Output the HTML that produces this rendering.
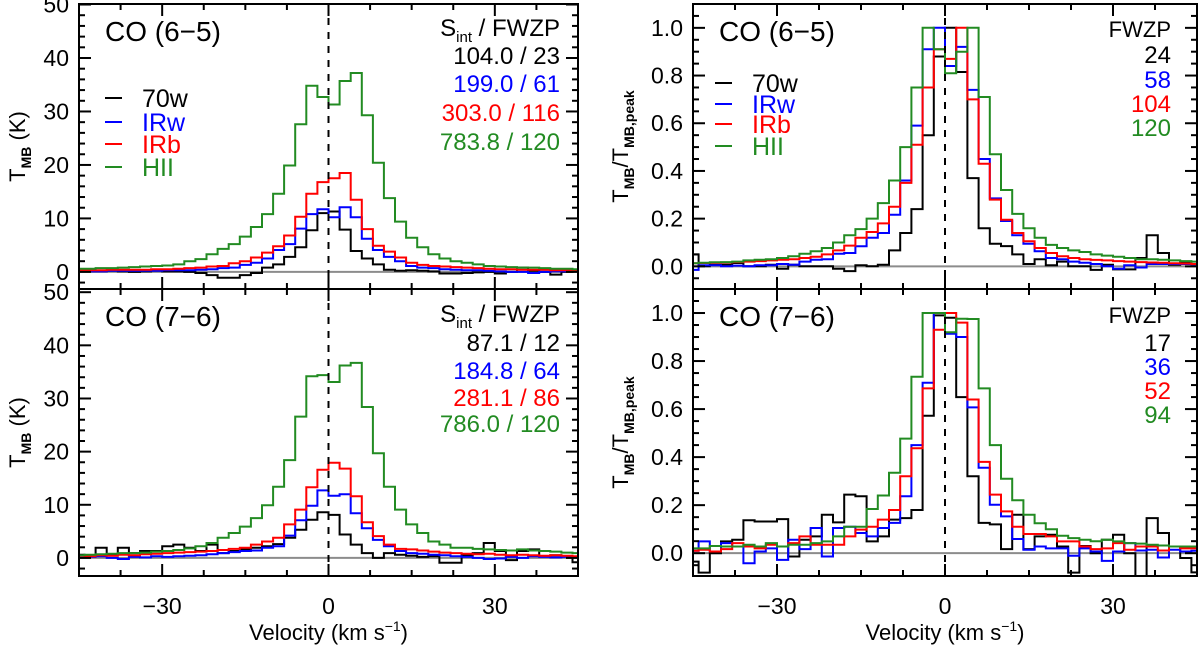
<!DOCTYPE html>
<html><head><meta charset="utf-8"><style>
html,body{margin:0;padding:0;background:#fff}
svg{display:block;font-family:"Liberation Sans",sans-serif}
</style></head><body>
<svg id="chart" width="1200" height="651" viewBox="0 0 1200 651" xmlns="http://www.w3.org/2000/svg"></svg>
<script>
// ---- data (bins of 2 km/s, centers -45..45) ----
const binCenters = [];
for (let c = -45; c <= 45; c += 2) binCenters.push(c);
const seriesNames = ["70w","IRw","IRb","HII"];
const seriesColors = ["#000000","#0000ff","#ff0000","#228b22"];

const co65_70w = [0.2,0.1,0.1,0.2,0.1,0.0,0.1,0.2,0.1,0.1,0.0,-0.2,-0.6,-1.1,-1.1,-0.6,-0.2,0.8,1.4,2.8,4.6,7.8,11.0,11.3,7.9,3.9,2.5,1.4,0.4,0.2,0.3,0.2,0.1,-0.3,-0.3,-0.2,-0.1,0.0,-0.3,0.0,0.8,0.2,0.0,-0.5,0.0,0.1];
const co65_IRw = [0.1,0.1,0.1,0.2,0.2,0.2,0.2,0.2,0.3,0.3,0.3,0.4,0.5,0.7,0.8,1.3,1.7,2.5,4.1,5.2,8.1,10.8,11.7,10.2,12.1,10.2,6.2,4.1,2.8,2.0,1.1,0.8,0.7,0.5,0.4,0.3,0.3,0.2,0.1,0.0,0.0,-0.2,0.0,0.1,0.1,0.1];
const co65_IRb = [0.3,0.3,0.3,0.4,0.4,0.4,0.4,0.5,0.5,0.6,0.7,0.8,1.0,1.1,1.6,2.0,2.7,3.6,4.8,6.8,10.3,14.6,16.8,17.5,18.5,13.5,8.0,4.9,3.8,2.7,1.7,1.3,1.1,1.0,0.9,0.8,0.7,0.6,0.5,0.5,0.4,0.4,0.4,0.3,0.3,0.3];
const co65_HII = [0.6,0.6,0.7,0.7,0.8,0.9,1.0,1.1,1.2,1.4,2.0,2.4,3.3,4.3,5.2,6.6,8.4,10.8,14.6,19.9,27.6,34.8,32.7,31.3,35.7,37.2,29.3,20.4,13.8,9.4,6.4,4.6,3.3,2.5,2.0,1.7,1.4,1.1,1.0,0.9,0.8,0.8,0.7,0.6,0.6,0.5];

const co76_70w = [0.6,0.3,1.9,0.6,1.9,0.9,1.3,1.3,2.2,2.5,1.9,1.3,2.5,0.9,1.3,1.6,1.9,2.2,2.6,3.8,5.3,7.2,8.6,8.1,4.4,2.5,0.9,0.0,0.9,0.6,0.4,0.2,0.3,-0.9,-0.9,0.5,0.9,2.8,1.3,-0.4,1.3,1.6,0.3,0.5,0.3,-0.8];
const co76_IRw = [0.4,0.2,0.3,0.0,-0.2,0.2,0.1,0.3,0.2,0.3,0.4,0.5,0.7,0.9,1.1,1.3,1.4,1.9,2.2,4.2,7.1,9.8,12.7,11.7,12.0,8.4,5.6,3.4,2.2,1.3,0.9,0.8,0.6,0.5,0.3,0.2,0.0,-0.2,-0.1,0.2,0.0,0.3,0.2,0.1,0.2,0.1];
const co76_IRb = [0.4,0.3,0.5,0.4,0.6,0.5,0.7,0.8,0.9,1.0,1.1,1.2,1.3,1.5,1.7,1.9,2.5,3.1,3.8,6.3,9.1,13.3,16.6,17.9,16.8,11.6,6.7,4.1,2.5,1.7,1.6,1.4,1.2,1.0,0.9,0.8,0.7,0.8,0.6,0.5,0.6,0.5,0.4,0.5,0.4,0.3];
const co76_HII = [0.5,0.6,0.7,0.8,0.9,0.9,1.0,1.2,1.3,1.5,1.8,2.2,2.8,3.8,4.7,5.9,7.5,9.9,13.4,18.4,26.6,34.2,34.4,33.1,36.2,36.7,28.4,19.7,13.4,9.1,6.3,4.7,3.1,2.5,1.9,1.9,1.7,1.6,1.5,1.4,1.6,1.4,1.3,1.2,1.0,0.9];

const n65_70w = [0.05,0.0,0.007,0.007,0.014,0.0,0.0,0.007,-0.01,0.007,0.0,0.0,0.0,-0.01,-0.02,0.005,0.0,0.007,0.067,0.14,0.24,0.55,0.88,1.0,0.815,0.37,0.16,0.095,0.085,0.05,0.01,0.03,0.005,0.02,0.0,0.0,-0.015,0.007,-0.013,-0.013,0.035,0.13,0.056,0.007,0.02,0.01];
const n65_IRw = [-0.015,0.005,0.005,0.0,0.003,0.0,0.005,0.005,0.01,0.007,0.02,0.028,0.03,0.053,0.056,0.084,0.12,0.14,0.216,0.36,0.59,0.91,1.0,0.84,0.92,0.74,0.45,0.285,0.19,0.13,0.095,0.063,0.035,0.03,0.02,0.015,0.01,0.0,-0.01,0.005,-0.005,0.01,0.01,0.01,0.01,0.008];
const n65_IRb = [0.013,0.014,0.015,0.016,0.018,0.02,0.022,0.025,0.028,0.03,0.035,0.04,0.05,0.067,0.087,0.12,0.144,0.18,0.25,0.35,0.51,0.75,0.91,0.87,1.0,0.70,0.43,0.28,0.195,0.14,0.105,0.077,0.056,0.042,0.035,0.03,0.027,0.025,0.022,0.02,0.018,0.016,0.015,0.013,0.012,0.01];
const n65_HII = [0.013,0.015,0.017,0.018,0.02,0.025,0.028,0.03,0.035,0.042,0.053,0.063,0.077,0.10,0.13,0.156,0.20,0.265,0.36,0.50,0.75,1.0,0.91,0.81,0.90,1.0,0.71,0.47,0.32,0.22,0.16,0.12,0.09,0.077,0.067,0.06,0.05,0.045,0.04,0.035,0.03,0.03,0.028,0.025,0.022,0.02];

const n76_70w = [-0.035,-0.081,0.0,0.049,0.056,0.137,0.132,0.132,0.142,-0.014,0.056,0.07,0.16,0.128,0.244,0.237,0.049,0.07,0.14,0.146,0.18,0.572,0.99,0.98,0.65,0.32,0.126,0.12,0.017,0.16,0.017,0.07,0.077,0.028,-0.081,0.03,0.0,0.056,0.077,0.0,-0.12,0.146,0.084,0.028,-0.02,-0.08];
const n76_IRw = [0.01,0.049,0.007,0.042,0.028,-0.042,0.007,0.02,-0.028,0.056,0.017,0.105,-0.014,0.105,0.11,0.084,0.07,0.105,0.126,0.237,0.45,0.71,1.0,0.914,0.90,0.607,0.356,0.202,0.153,0.059,0.014,0.028,0.02,0.02,-0.011,0.02,0.007,-0.032,0.007,0.042,0.011,0.014,-0.018,0.014,0.007,0.01];
const n76_IRb = [0.01,0.014,0.007,0.017,0.042,0.028,0.02,0.035,0.028,0.042,0.07,0.035,0.035,0.035,0.07,0.098,0.11,0.14,0.18,0.32,0.437,0.686,0.93,1.0,0.96,0.64,0.38,0.244,0.174,0.11,0.08,0.08,0.07,0.049,0.049,0.028,0.017,0.02,0.042,0.014,0.028,0.028,0.011,0.028,0.02,0.02];
const n76_HII = [0.02,0.02,0.03,0.028,0.028,0.035,0.028,0.042,0.028,0.035,0.035,0.042,0.049,0.07,0.11,0.11,0.184,0.24,0.335,0.477,0.735,1.0,1.0,0.92,0.976,0.975,0.686,0.45,0.31,0.22,0.16,0.125,0.10,0.073,0.063,0.056,0.05,0.056,0.049,0.042,0.04,0.035,0.032,0.028,0.028,0.028];

const xTickLabels = [-30, 0, 30];
const leftYTicks = [0,10,20,30,40,50];
const rightYTicks = [0.0,0.2,0.4,0.6,0.8,1.0];
const sint65 = ["104.0 / 23","199.0 / 61","303.0 / 116","783.8 / 120"];
const sint76 = ["87.1 / 12","184.8 / 64","281.1 / 86","786.0 / 120"];
const fwzp65 = ["24","58","104","120"];
const fwzp76 = ["17","36","52","94"];

// ---- drawing ----
const NS = "http://www.w3.org/2000/svg";
const svg = document.getElementById("chart");
function mk(tag, attrs, parent) {
  const e = document.createElementNS(NS, tag);
  for (const k in attrs) e.setAttribute(k, attrs[k]);
  (parent || svg).appendChild(e);
  return e;
}
const panels = [
  {id:"co65-abs", x0:79, x1:578, y0:4, y1:289, ymin:-3.2, ymax:50.1, norm:false, series:[co65_70w,co65_IRw,co65_IRb,co65_HII], label:"CO (6\u22125)", bottom:false},
  {id:"co76-abs", x0:79, x1:578, y0:289, y1:576, ymin:-3.4, ymax:50.6, norm:false, series:[co76_70w,co76_IRw,co76_IRb,co76_HII], label:"CO (7\u22126)", bottom:true},
  {id:"co65-norm", x0:693, x1:1197, y0:4, y1:289, ymin:-0.095, ymax:1.10, norm:true, series:[n65_70w,n65_IRw,n65_IRb,n65_HII], label:"CO (6\u22125)", bottom:false},
  {id:"co76-norm", x0:693, x1:1197, y0:289, y1:576, ymin:-0.095, ymax:1.10, norm:true, series:[n76_70w,n76_IRw,n76_IRb,n76_HII], label:"CO (7\u22126)", bottom:true}
];
const XMIN = -45, XMAX = 45;

panels.forEach((p, pi) => {
  const g = mk("g", {});
  
  
  const xs = v => p.x0 + (v - XMIN) / (XMAX - XMIN) * (p.x1 - p.x0);
  const ys = v => p.y1 - (v - p.ymin) / (p.ymax - p.ymin) * (p.y1 - p.y0);
  const cp = mk("clipPath", {id: "clip" + pi}, g);
  mk("rect", {x:p.x0, y:p.y0, width:p.x1-p.x0, height:p.y1-p.y0}, cp);

  const zl = mk("line", {x1:p.x0, x2:p.x1, y1:ys(0), y2:ys(0), stroke:"#8c8c8c", "stroke-width":2}, g);
  
  

  p.series.forEach((vals, si) => {
    let d = "";
    vals.forEach((v, i) => {
      const c = binCenters[i];
      const l = Math.max(XMIN, c - 1), r = Math.min(XMAX, c + 1);
      if (i === 0) d += "M" + xs(l).toFixed(1) + " " + ys(v).toFixed(1);
      else d += " V" + ys(v).toFixed(1);
      d += " H" + xs(r).toFixed(1);
    });
    const path = mk("path", {d:d, fill:"none", stroke:seriesColors[si], "stroke-width":2, "clip-path":"url(#clip"+pi+")"}, g);
    
    
  });

  const dl = mk("line", {x1:xs(0), x2:xs(0), y1:p.y0, y2:p.y1, stroke:"#000", "stroke-width":2, "stroke-dasharray":"7,7"}, g);
  
  

  const fr = mk("rect", {x:p.x0, y:p.y0, width:p.x1-p.x0, height:p.y1-p.y0, fill:"none", stroke:"#000", "stroke-width":2}, g);
  
  

  for (let v = -37.5; v <= 37.6; v += 7.5) {
    const major = Math.abs(v % 30) < 1e-6;
    const len = major ? 12 : 6;
    [[p.y1, -len],[p.y0, len]].forEach(([yy, dlen]) => {
      const t = mk("line", {x1:xs(v), x2:xs(v), y1:yy, y2:yy+dlen, stroke:"#000", "stroke-width":2}, g);
      
      
    });
  }
  const yt = p.norm ? rightYTicks : leftYTicks;
  const minorStep = p.norm ? 0.05 : 2;
  const majorStep = p.norm ? 0.2 : 10;
  const start = Math.ceil(p.ymin / minorStep) * minorStep;
  for (let v = start; v <= p.ymax + 1e-9; v += minorStep) {
    const r = v / majorStep;
    const major = Math.abs(r - Math.round(r)) < 1e-6;
    const len = major ? 12 : 6;
    [[p.x0, len],[p.x1, -len]].forEach(([xx, dlen]) => {
      const t = mk("line", {x1:xx, x2:xx+dlen, y1:ys(v), y2:ys(v), stroke:"#000", "stroke-width":2}, g);
      
      
    });
  }
  yt.forEach(v => {
    const t = mk("text", {x:p.x0 - 10, y:ys(v) + 8, "text-anchor":"end", "font-size":23, fill:"#000"}, g);
    t.textContent = p.norm ? v.toFixed(1) : String(v);
    
    
  });
  if (p.bottom) {
    xTickLabels.forEach(v => {
      const t = mk("text", {x:xs(v), y:614, "text-anchor":"middle", "font-size":23, fill:"#000"}, g);
      t.textContent = v < 0 ? "\u2212" + Math.abs(v) : String(v);
      
      
    });
    const xt = mk("text", {x:(p.x0+p.x1)/2, y:640, "text-anchor":"middle", "font-size":22, fill:"#000"}, g);
    xt.innerHTML = 'Velocity (km s<tspan dy="-9" font-size="14">\u22121</tspan><tspan dy="9">)</tspan>';
    
    
  }
  const ymid = (p.y0 + p.y1) / 2;
  const tx = p.norm ? 628 : 25;
  const yt2 = mk("text", {x:tx, y:ymid, "text-anchor":"middle", "font-size":22, fill:"#000", transform:"rotate(-90 "+tx+" "+ymid+")"}, g);
  yt2.innerHTML = p.norm
    ? 'T<tspan dy="6" font-size="14" font-weight="bold">MB</tspan><tspan dy="-6">/T</tspan><tspan dy="6" font-size="14" font-weight="bold">MB,peak</tspan>'
    : 'T<tspan dy="6" font-size="14" font-weight="bold">MB</tspan><tspan dy="-6"> (K)</tspan>';
  
  

  const top = p.y0;
  const lbl = mk("text", {x:p.x0 + 26, y:top + 37, "font-size":28, fill:"#000"}, g);
  lbl.textContent = p.label;
  
  

  if (!p.bottom) {
    const lx = p.norm ? 715 : 105;
    const ly = p.norm ? [83,104,124,146] : [98,122,144,167];
    seriesNames.forEach((n, si) => {
      const ln = mk("line", {x1:lx, x2:lx+17, y1:ly[si], y2:ly[si], stroke:seriesColors[si], "stroke-width":2}, g);
      
      
      const t = mk("text", {x:lx + 37, y:ly[si] + 9, "font-size":25, fill:seriesColors[si]}, g);
      t.textContent = n;
      
      
    });
  }
  if (!p.norm) {
    const rows = p.bottom ? sint76 : sint65;
    const ys0 = p.bottom ? [322,351,379,406,432] : [36,64,92,121,150];
    const h = mk("text", {x:560, y:ys0[0], "text-anchor":"end", "font-size":24, fill:"#000"}, g);
    h.innerHTML = 'S<tspan dy="6" font-size="15">int</tspan><tspan dy="-6"> / FWZP</tspan>';
    
    
    rows.forEach((r, k) => {
      const t = mk("text", {x:560, y:ys0[k+1], "text-anchor":"end", "font-size":24, fill:seriesColors[k]}, g);
      t.textContent = r;
      
      
    });
  } else {
    const rows = p.bottom ? fwzp76 : fwzp65;
    const ys0 = p.bottom ? [323,351,375,399,423] : [37,63,88,112,136];
    const h = mk("text", {x:1171, y:ys0[0], "text-anchor":"end", "font-size":22, fill:"#000"}, g);
    h.textContent = "FWZP";
    
    
    rows.forEach((r, k) => {
      const t = mk("text", {x:1171, y:ys0[k+1], "text-anchor":"end", "font-size":24, fill:seriesColors[k]}, g);
      t.textContent = r;
      
      
    });
  }
});
</script>
</body></html>
